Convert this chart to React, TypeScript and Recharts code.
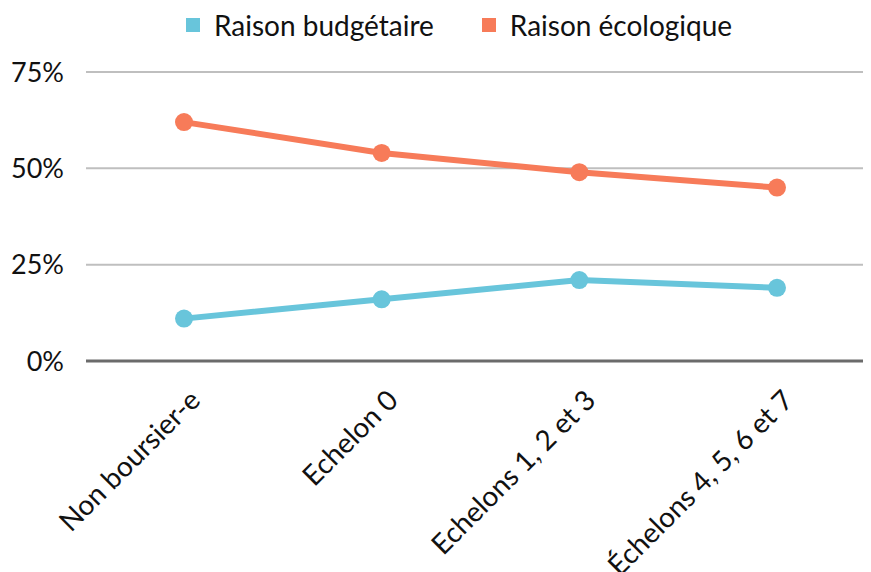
import { LineChart, Line, CartesianGrid, XAxis, YAxis, ReferenceLine } from "recharts";

const categories = ["Non boursier-e", "Echelon 0", "Echelons 1, 2 et 3", "Échelons 4, 5, 6 et 7"];
const budgetaire = [11, 16, 21, 19];
const ecologique = [62, 54, 49, 45];
const yTicks = [0, 25, 50, 75];

const series = [
  { key: "budgetaire", name: "Raison budgétaire", color: "#68C5DB" },
  { key: "ecologique", name: "Raison écologique", color: "#F77B59" },
];

const data = categories.map((c, i) => ({
  name: c,
  budgetaire: budgetaire[i],
  ecologique: ecologique[i],
}));

const FONT = "Lato, 'Open Sans', sans-serif";

function CategoryTick(props: any) {
  const { x, y, payload } = props;
  const ax = x + 18;
  const ay = y + 33;
  return (
    <text
      x={ax}
      y={ay}
      textAnchor="end"
      fontSize={28}
      fontFamily={FONT}
      fill="#111"
      transform={`rotate(-45 ${ax} ${ay})`}
    >
      {payload.value}
    </text>
  );
}

export default function App() {
  return (
    <div style={{ position: "relative", width: 871, height: 572, margin: "-8px 0 0 -8px", overflow: "hidden", background: "#fff" }}>
      <div
        style={{
          position: "absolute",
          top: 8,
          left: 186,
          display: "flex",
          gap: 48,
          fontFamily: FONT,
          fontSize: 28,
          color: "#111",
        }}
      >
        {series.map((s) => (
          <div key={s.key} style={{ display: "flex", alignItems: "center", gap: 14 }}>
            <span style={{ width: 14, height: 14, background: s.color, display: "inline-block" }} />
            <span>{s.name}</span>
          </div>
        ))}
      </div>
      <LineChart width={871} height={572} data={data} margin={{ top: 72, right: 0, bottom: 0, left: 0 }}>
        <CartesianGrid vertical={false} stroke="#BFBFBF" strokeWidth={2} />
        <XAxis
          dataKey="name"
          axisLine={false}
          tickLine={false}
          interval={0}
          height={211}
          padding={{ left: 98, right: 94 }}
          tick={<CategoryTick />}
        />
        <YAxis
          domain={[0, 75]}
          ticks={yTicks}
          width={86}
          axisLine={false}
          tickLine={false}
          tickSize={0}
          tickMargin={22}
          tickFormatter={(v) => `${v}%`}
          tick={{ fontSize: 27, fontFamily: FONT, fill: "#111" }}
        />
        <ReferenceLine y={0} stroke="#6B6B6B" strokeWidth={3} />
        {series.map((s) => (
          <Line
            key={s.key}
            dataKey={s.key}
            name={s.name}
            stroke={s.color}
            strokeWidth={6}
            dot={{ r: 9, fill: s.color, stroke: s.color, strokeWidth: 0 }}
            activeDot={false}
            isAnimationActive={false}
          />
        ))}
      </LineChart>
    </div>
  );
}
